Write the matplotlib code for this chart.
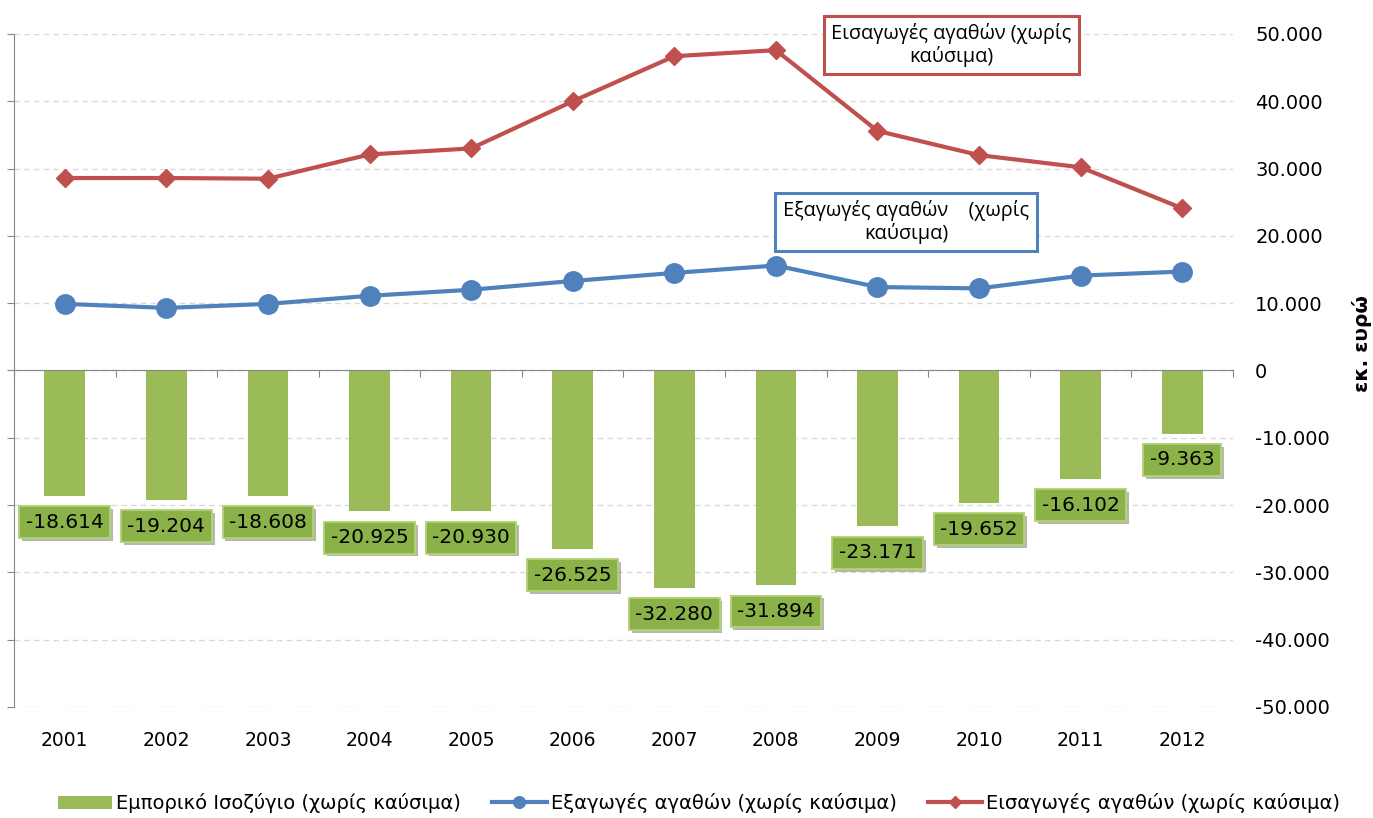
import numpy as np
import matplotlib.pyplot as plt
import matplotlib.patheffects as pe
from matplotlib.ticker import FuncFormatter, MultipleLocator

plt.rcParams['font.family'] = ['DejaVu Sans']

# data (εκ. ευρώ)
years = ['2001', '2002', '2003', '2004', '2005', '2006',
         '2007', '2008', '2009', '2010', '2011', '2012']
balance = [-18614, -19204, -18608, -20925, -20930, -26525,
           -32280, -31894, -23171, -19652, -16102, -9363]
exports = [9900, 9300, 9900, 11100, 12000, 13300,
           14500, 15600, 12400, 12200, 14100, 14700]
imports = [28600, 28600, 28500, 32100, 33000, 40000,
           46700, 47600, 35600, 32000, 30200, 24100]

green = '#9BBB59'
blue = '#4F81BD'
red = '#C0504D'
gray = '#868686'


def fmt(v, pos=None):
    return f'{v:,.0f}'.replace(',', '.')


fig = plt.figure(figsize=(13.73, 8.18), dpi=100)
ax = fig.add_axes([14 / 1373, 1 - 707 / 818, 1219 / 1373, 673 / 818])
x = np.arange(len(years))

b = ax.bar(x, balance, width=0.4, color=green, zorder=2,
           label='Εμπορικό Ισοζύγιο (χωρίς καύσιμα)')
l1, = ax.plot(x, exports, color=blue, lw=3, marker='o', ms=14, zorder=4,
              label='Εξαγωγές αγαθών (χωρίς καύσιμα)')
l2, = ax.plot(x, imports, color=red, lw=3, marker='D', ms=9.5, zorder=4,
              label='Εισαγωγές αγαθών (χωρίς καύσιμα)')

# data labels under the bars
for xi, v in zip(x, balance):
    t = ax.annotate(fmt(v), (xi, v), xytext=(0, -19), textcoords='offset points',
                    ha='center', va='center', fontsize=14.5, zorder=5,
                    bbox=dict(boxstyle='square,pad=0.32', fc='#8AB248',
                              ec='#B5D37B', lw=1.2))
    t.get_bbox_patch().set_path_effects(
        [pe.withSimplePatchShadow(offset=(2, -2), alpha=0.35), pe.Normal()])

# series call-outs
ax.text(8.73, 48370, 'Εισαγωγές αγαθών (χωρίς\nκαύσιμα)', ha='center', va='center',
        fontsize=14.3, family=['Open Sans', 'DejaVu Sans'], zorder=6, linespacing=1.1,
        bbox=dict(boxstyle='square,pad=0.38', fc='white', ec=red, lw=2.2))
ax.text(8.28, 22065, 'Εξαγωγές αγαθών    (χωρίς\nκαύσιμα)', ha='center', va='center',
        fontsize=14.3, family=['Open Sans', 'DejaVu Sans'], zorder=6, linespacing=1.1,
        bbox=dict(boxstyle='square,pad=0.38', fc='white', ec=blue, lw=2.2))

# axes
ax.set_xlim(-0.5, 11.5)
ax.set_ylim(-50000, 50000)
ax.yaxis.set_major_locator(MultipleLocator(10000))
ax.yaxis.set_major_formatter(FuncFormatter(fmt))
ax.tick_params(axis='y', left=True, right=False, labelleft=False, labelright=True,
               direction='out', length=5, color=gray, labelsize=14, pad=11)
ax.yaxis.grid(True, ls=(0, (4, 3)), color='#D9D9D9', lw=1)
ax.set_axisbelow(True)

ax.spines['top'].set_visible(False)
ax.spines['right'].set_visible(False)
ax.spines['left'].set_color(gray)
ax.spines['bottom'].set_position(('data', 0))
ax.spines['bottom'].set_color(gray)
ax.spines['bottom'].set_zorder(3)
ax.set_xticks(np.arange(-0.5, 12, 1))
ax.tick_params(axis='x', labelbottom=False, length=5, color=gray, direction='out')

sec = ax.secondary_xaxis('bottom')
sec.set_xticks(x, years)
sec.tick_params(length=0, pad=17, labelsize=13.5)
sec.spines['bottom'].set_visible(False)

fig.text(1362 / 1373, 1 - 344 / 818, 'εκ. ευρώ', rotation=90, ha='center', va='center',
         fontweight='bold', fontsize=14.5)

fig.legend(handles=[b, l1, l2], loc='center', bbox_to_anchor=(0.509, 0.018), ncol=3,
           frameon=False, fontsize=14, handlelength=2.8, handletextpad=0.2,
           columnspacing=1.6, markerscale=0.6)

fig.savefig('out.png', dpi=100)
